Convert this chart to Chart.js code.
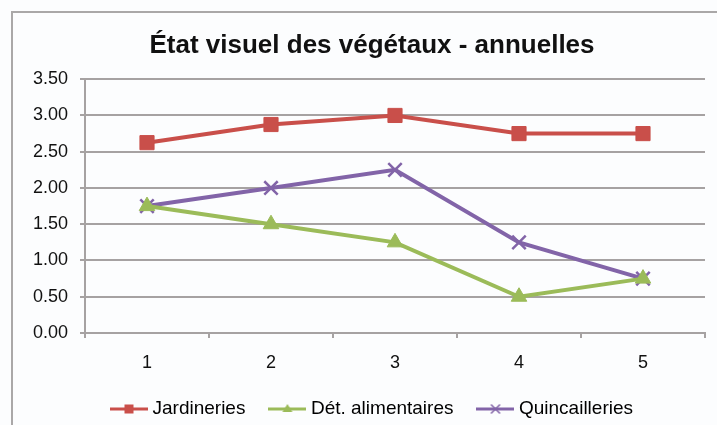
<!DOCTYPE html>
<html>
<head>
<meta charset="utf-8">
<script src="https://cdn.jsdelivr.net/npm/chart.js@4"></script>
<style>
    html, body { margin: 0; padding: 0; background: #fcfdfe; overflow: hidden; }
    canvas { display: block; }
</style>
</head>
<body>
<canvas id="chart" width="717" height="425"></canvas>
<script>
const CATEGORIES = ['1', '2', '3', '4', '5']
const JARDINERIES = [2.625, 2.875, 3.0, 2.75, 2.75]
const DET_ALIMENTAIRES = [1.75, 1.5, 1.25, 0.5, 0.75]
const QUINCAILLERIES = [1.75, 2.0, 2.25, 1.25, 0.75]
const Y_MIN = 0
const Y_MAX = 3.5
const Y_STEP = 0.5

const RED = '#c94f4a'
const GREEN = '#9bbb59'
const PURPLE = '#8264a8'
const GRID = '#a6a2a2'
const FONT = '"Liberation Sans", Arial, Helvetica, sans-serif'

// legend swatch: short line with a small series marker in the middle
function legendIcon(color, style) {
    const c = document.createElement('canvas')
    c.width = 38
    c.height = 14
    const ctx = c.getContext('2d')
    ctx.strokeStyle = color
    ctx.fillStyle = color
    ctx.lineWidth = 3
    ctx.beginPath()
    ctx.moveTo(0, 7)
    ctx.lineTo(38, 7)
    ctx.stroke()
    if (style === 'rect') {
        ctx.fillRect(14.5, 2.5, 9, 9)
    } else if (style === 'triangle') {
        ctx.beginPath()
        ctx.moveTo(19, 2)
        ctx.lineTo(24, 10)
        ctx.lineTo(14, 10)
        ctx.closePath()
        ctx.fill()
    } else {
        ctx.lineWidth = 1.5
        ctx.beginPath()
        ctx.moveTo(14.5, 2.5); ctx.lineTo(23.5, 11.5)
        ctx.moveTo(23.5, 2.5); ctx.lineTo(14.5, 11.5)
        ctx.stroke()
    }
    return c
}

// light background and the outer frame (only its top and left edges fall inside the canvas)
const framePlugin = {
    id: 'frame',
    beforeDraw(chart) {
        const ctx = chart.ctx
        ctx.save()
        ctx.fillStyle = '#fcfdfe'
        ctx.fillRect(0, 0, chart.width, chart.height)
        ctx.strokeStyle = '#aaa8a8'
        ctx.lineWidth = 2
        ctx.beginPath()
        ctx.moveTo(12, chart.height)
        ctx.lineTo(12, 12)
        ctx.lineTo(chart.width, 12)
        ctx.stroke()
        ctx.restore()
    }
}

// title and legend sit a little right of the plot centre
const nudgePlugin = {
    id: 'nudge',
    afterLayout(chart) {
        const shift = (box, dx) => {
            if (!box) return
            box.left += dx
            box.right += dx
        }
        shift(chart.titleBlock, 12)
        shift(chart.legend, 14)
    }
}

const datasets = [
    { label: 'Jardineries', data: JARDINERIES, color: RED, style: 'rect', radius: 10 },
    { label: 'Dét. alimentaires', data: DET_ALIMENTAIRES, color: GREEN, style: 'triangle', radius: 9 },
    { label: 'Quincailleries', data: QUINCAILLERIES, color: PURPLE, style: 'crossRot', radius: 9.5 }
].map(s => ({
    label: s.label,
    data: s.data,
    borderColor: s.color,
    backgroundColor: s.color,
    borderWidth: 4,
    pointStyle: s.style,
    pointRadius: s.radius,
    pointHoverRadius: s.radius,
    pointBackgroundColor: s.color,
    pointBorderColor: s.color,
    pointBorderWidth: s.style === 'crossRot' ? 2.5 : 1,
    tension: 0,
    icon: legendIcon(s.color, s.style)
}))

new Chart(document.querySelector('#chart'), {
    type: 'line',
    data: { labels: CATEGORIES, datasets },
    plugins: [framePlugin, nudgePlugin],
    options: {
        responsive: false,
        animation: false,
        layout: { padding: { left: 12, right: 9, top: 0, bottom: -3.5 } },
        plugins: {
            title: {
                display: true,
                text: 'État visuel des végétaux - annuelles',
                color: '#111',
                font: { family: FONT, size: 26, weight: 'bold' },
                padding: { top: 30, bottom: 18 }
            },
            legend: {
                position: 'bottom',
                labels: {
                    color: '#111',
                    font: { family: FONT, size: 19 },
                    usePointStyle: true,
                    pointStyleWidth: 28,
                    boxHeight: 14,
                    padding: 28,
                    generateLabels: chart => chart.data.datasets.map((ds, i) => ({
                        text: ds.label,
                        pointStyle: ds.icon,
                        fillStyle: ds.borderColor,
                        strokeStyle: ds.borderColor,
                        lineWidth: 0,
                        hidden: false,
                        datasetIndex: i
                    }))
                }
            },
            tooltip: { enabled: false }
        },
        scales: {
            x: {
                offset: true,
                grid: {
                    offset: true,
                    drawOnChartArea: false,
                    drawTicks: true,
                    tickLength: 5,
                    color: GRID,
                    lineWidth: 2
                },
                border: { display: true, color: GRID, width: 2 },
                ticks: { color: '#111', font: { family: FONT, size: 18 }, padding: 14 },
                afterFit: scale => { scale.height = 38.5 }
            },
            y: {
                min: Y_MIN,
                max: Y_MAX,
                grid: { color: GRID, lineWidth: 2, tickLength: 5 },
                border: { display: true, color: GRID, width: 2 },
                ticks: {
                    stepSize: Y_STEP,
                    color: '#111',
                    font: { family: FONT, size: 18 },
                    padding: 12,
                    callback: v => v.toFixed(2)
                },
                afterFit: scale => { scale.width = 73 }
            }
        }
    }
})
</script>
</body>
</html>
